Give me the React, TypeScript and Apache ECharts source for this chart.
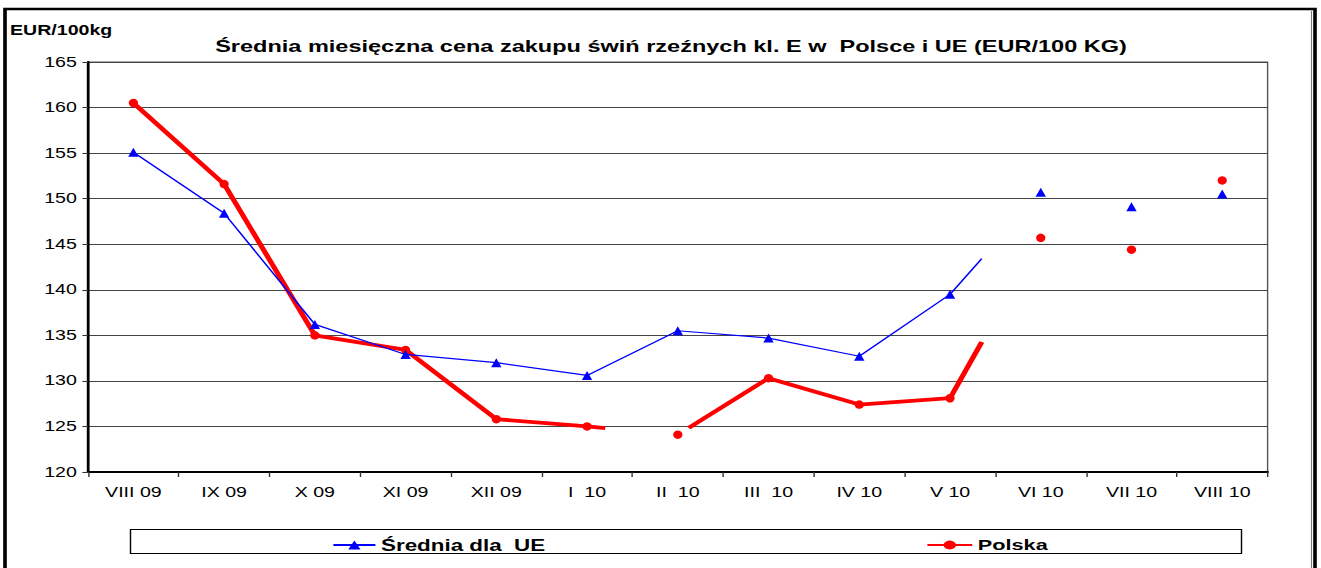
import React, { useEffect, useRef } from "react";
import * as echarts from "echarts";

const categories = ["VIII 09", "IX 09", "X 09", "XI 09", "XII 09", "I  10", "II  10", "III  10", "IV 10", "V 10", "VI 10", "VII 10", "VIII 10"];
const ueValues = [155.1, 148.4, 136.2, 132.9, 132.0, 130.6, 135.5, 134.7, 132.7, 139.5, 150.7, 149.1, 150.5];
const plValues = [160.5, 151.6, 135.0, 133.4, 125.8, 125.0, 124.1, 130.3, 127.4, 128.1, 145.7, 144.4, 152.0];
const yTicks = { min: 120, max: 165, interval: 5 };

// drawn (connected) runs of each line, in category-index units, as in the original rendering
const ueRuns: [number, number][] = [[0, 9.35], [10, 10], [11, 11], [12, 12]];
const plRuns: [number, number][] = [[0, 5.2], [6, 6], [6.12, 9.35], [10, 10], [11, 11], [12, 12]];

function interp(vals: number[], x: number) {
  const a = Math.floor(x);
  const b = Math.min(vals.length - 1, a + 1);
  return vals[a] + (x - a) * (vals[b] - vals[a]);
}

function buildData(vals: number[], runs: [number, number][]) {
  const out: any[] = [];
  runs.forEach(([from, to], k) => {
    if (k > 0) out.push([from - 0.001, "-"]);
    if (!Number.isInteger(from)) out.push({ value: [from, interp(vals, from)], symbol: "none" });
    for (let i = Math.ceil(from); i <= Math.floor(to); i++) out.push([i, vals[i]]);
    if (!Number.isInteger(to)) out.push({ value: [to, interp(vals, to)], symbol: "none" });
  });
  return out;
}

const FONT = "'Liberation Sans', Arial, sans-serif";
// the original picture is stretched horizontally; draw narrower and stretch with CSS
const S = 1.4;
const W = 1321 / S;
const H = 568;
const X = (v: number) => v / S;

export default function App() {
  const ref = useRef<HTMLDivElement>(null);
  useEffect(() => {
    document.body.style.margin = "0";
    const chart = echarts.init(ref.current!, null, { renderer: "svg" });
    chart.setOption({
      animation: false,
      backgroundColor: "#ffffff",
      textStyle: { fontFamily: FONT },
      title: {
        text: "Średnia miesięczna cena zakupu świń rzeźnych kl. E w  Polsce i UE (EUR/100 KG)",
        left: X(664),
        textAlign: "center",
        top: 33,
        textStyle: { fontSize: 16.8, fontWeight: "bold", color: "#000", fontFamily: FONT },
      },
      grid: { left: X(88), right: W - X(1267), top: 62, bottom: 96, show: true, borderColor: "#555", borderWidth: 1 },
      xAxis: [
        {
          type: "category",
          data: categories,
          boundaryGap: true,
          axisLine: { onZero: false, lineStyle: { color: "#000", width: 2 } },
          axisTick: { show: true, length: 5, lineStyle: { color: "#333", width: 1 } },
          axisLabel: { color: "#000", fontSize: 14, margin: 13, fontFamily: FONT },
          splitLine: { show: false },
        },
        { type: "value", min: -0.5, max: 12.5, show: false },
      ],
      yAxis: {
        type: "value",
        min: yTicks.min,
        max: yTicks.max,
        interval: yTicks.interval,
        axisLine: { show: true, onZero: false, lineStyle: { color: "#000", width: 2 } },
        axisTick: { show: true, length: 4, lineStyle: { color: "#333" } },
        axisLabel: { color: "#000", fontSize: 14, margin: 8, fontFamily: FONT },
        splitLine: { show: true, lineStyle: { color: "#444", width: 1 } },
      },
      legend: [
        {
          data: ["Średnia dla  UE"],
          left: X(332) - 5,
          top: 532,
          itemWidth: 30,
          itemHeight: 11,
          itemGap: 4,
          textStyle: { fontSize: 16, fontWeight: "bold", color: "#000", fontFamily: FONT, padding: [0, 0, 0, -1] },
        },
        {
          data: ["Polska"],
          left: X(926) - 5,
          top: 532,
          itemWidth: 32,
          itemHeight: 11,
          itemGap: 4,
          textStyle: { fontSize: 15.5, fontWeight: "bold", color: "#000", fontFamily: FONT, padding: [0, 0, 0, -1] },
        },
      ],
      graphic: [
        { type: "rect", shape: { x: X(5), y: 9, width: X(1310), height: 600 }, style: { fill: "none", stroke: "#000", lineWidth: 2.6 }, silent: true },
        { type: "line", shape: { x1: X(1311.5), y1: 11, x2: X(1311.5), y2: 568 }, style: { stroke: "#777", lineWidth: 0.8 }, silent: true },
        { type: "rect", shape: { x: X(130.5), y: 529.5, width: X(1111), height: 24 }, style: { fill: "none", stroke: "#000", lineWidth: 1 }, silent: true, z: -1 },
        { type: "text", x: X(10), y: 23, style: { text: "EUR/100kg", font: `bold 14px ${FONT}`, fill: "#000" }, silent: true },
      ],
      series: [
        {
          name: "Średnia dla  UE",
          type: "line",
          xAxisIndex: 1,
          data: buildData(ueValues, ueRuns),
          connectNulls: false,
          symbol: "triangle",
          symbolSize: [7.4, 9],
          showSymbol: true,
          itemStyle: { color: "#0000ff" },
          lineStyle: { color: "#0000ff", width: 1.2 },
          z: 3,
        },
        {
          name: "Polska",
          type: "line",
          xAxisIndex: 1,
          data: buildData(plValues, plRuns),
          connectNulls: false,
          symbol: "circle",
          symbolSize: [6.6, 8.5],
          showSymbol: true,
          itemStyle: { color: "#ff0000" },
          lineStyle: { color: "#ff0000", width: 3.8 },
          z: 2,
        },
      ],
    });
    return () => chart.dispose();
  }, []);
  return (
    <div
      ref={ref}
      style={{ position: "absolute", left: 0, top: 0, width: W, height: H, transform: `scaleX(${S})`, transformOrigin: "0 0" }}
    />
  );
}
